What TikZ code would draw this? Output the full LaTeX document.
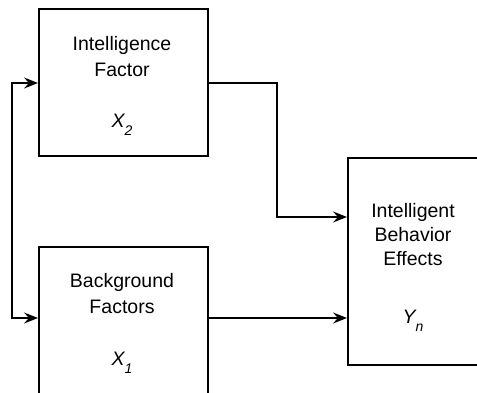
\documentclass[tikz,border=0pt]{standalone}
\usepackage{fontspec}
\setmainfont{Liberation Sans}
\usetikzlibrary{arrows.meta}
\begin{document}
\begin{tikzpicture}[x=1pt,y=-1pt,
  box/.style={draw,line width=1.8pt,inner sep=0pt,anchor=north west},
  lbl/.style={font=\fontsize{19.5}{24}\selectfont,align=center,inner sep=0pt},
  sub/.style={},
  conn/.style={line width=1.8pt,-{Stealth[length=14pt,width=11pt,inset=5pt]}},
  conn2/.style={line width=1.8pt,{Stealth[length=14pt,width=11pt,inset=5pt]}-{Stealth[length=14pt,width=11pt,inset=5pt]}}]
\useasboundingbox (0,0) rectangle (477,393);
\clip (0,0) rectangle (477,393);
\node[box,minimum width=169pt,minimum height=147pt] (b1) at (38,8) {};
\node[box,minimum width=169pt,minimum height=180pt] (b2) at (38,246) {};
\node[box,minimum width=180pt,minimum height=207pt] (b3) at (347,157) {};
\node[lbl] (t1) at (122,57) {Intelligence\\[2pt]Factor};
\node[lbl] (x2) at (122,125) {\itshape X\raisebox{-0.4em}{\fontsize{14}{14}\selectfont 2}};
\node[lbl] (t2) at (122,294) {Background\\[2pt]Factors};
\node[lbl] (x1) at (122,363) {\itshape X\raisebox{-0.4em}{\fontsize{14}{14}\selectfont 1}};
\node[lbl] (t3) at (413,235) {Intelligent\\Behavior\\Effects};
\node[lbl] (yn) at (413,321) {\itshape Y\raisebox{-0.4em}{\fontsize{14}{14}\selectfont n}};
\coordinate (L1) at (12,83);
\coordinate (L2) at (12,318);
\coordinate (M) at (277,217);
\draw[conn2] (b1.west |- L1) -- (L1) -- (L2) -- (b2.west |- L2);
\draw[conn] (b1.east |- L1) -- (L1 -| M) -- (M) -- (b3.west |- M);
\draw[conn] (b2.east |- L2) -- (b3.west |- L2);
\end{tikzpicture}
\end{document}
